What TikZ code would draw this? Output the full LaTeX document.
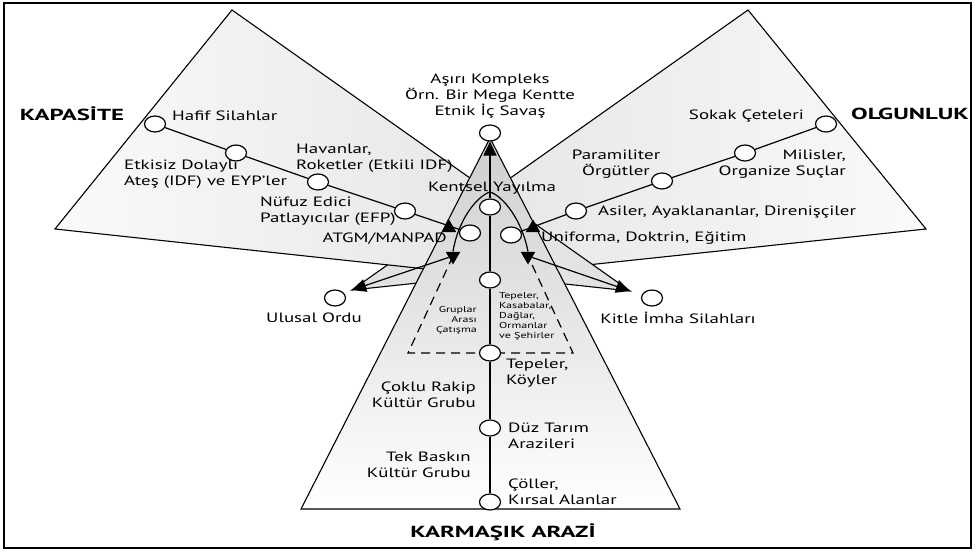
\documentclass[tikz,border=0pt]{standalone}
\usepackage{fontspec}
\setmainfont{PT Sans}[FakeStretch=1.4]
\newfontfamily\ttlfont{PT Sans}[FakeStretch=1.55]
\usetikzlibrary{shapes.geometric,arrows.meta,calc}
\begin{document}
\begin{tikzpicture}[x=1pt,y=-1pt,
  every node/.style={inner sep=0pt},
  lab/.style={font=\fontsize{13.5}{16}\selectfont},
  small/.style={font=\fontsize{8.6}{10}\selectfont},
  ttl/.style={font=\ttlfont\fontsize{16}{18}\selectfont\bfseries},
  pt/.style={draw, ellipse, fill=white, minimum width=21pt, minimum height=16pt, line width=1.2pt},
  edgeline/.style={line width=1.2pt},
  tri/.style={draw, line width=1.1pt},
  upT/.style={regular polygon, regular polygon sides=3, fill=black, minimum size=17pt},
  dnT/.style={upT, shape border rotate=180},
  tip/.style={-{Triangle[length=14pt,width=13pt]}},
  dashline/.style={line width=1.2pt, dash pattern=on 9pt off 6pt}
]
\useasboundingbox (0,0) rectangle (976,553);
\draw[line width=1.3pt] (4,3) rectangle (971,548);

% vertices
\coordinate (ut) at (352,290);
\coordinate (wt) at (630,291);
\coordinate (LA) at (232,10);
\coordinate (LB) at (55,229);
\coordinate (RA) at (748,10);
\coordinate (RB) at (926,229);
\coordinate (BA) at (490,138);
\coordinate (BL) at (301,509);
\coordinate (BR) at (680,509);

% big triangles
\shade[left color=gray!24, right color=gray!4] (RA) -- (RB) -- (ut) -- cycle;
\draw[tri] (RA) -- (RB) -- (ut) -- cycle;
\shade[left color=gray!4, right color=gray!24] (LA) -- (LB) -- (wt) -- cycle;
\draw[tri] (LA) -- (LB) -- (wt) -- cycle;
\shade[top color=gray!38, middle color=gray!12, bottom color=white] (BA) -- (BL) -- (BR) -- cycle;
\draw[tri] (BA) -- (BL) -- (BR) -- cycle;

% dashed region
\coordinate (qa) at (408,353);
\coordinate (qb) at (573,353);
\coordinate (dlc) at (453,256);
\coordinate (drc) at (528,256);
\draw[dashline] (dlc) -- (qa) -- (qb) -- (drc);

% arrow heads
\node[upT] (al) at (449,228) {};
\node[upT] (ar) at (533,228) {};
\node[dnT] (dl) at (dlc) {};
\node[dnT] (dr) at (drc) {};

% circles
\node[pt] (c1) at (155,124) {};
\node[pt] (c2) at (236,153) {};
\node[pt] (c3) at (318,182) {};
\node[pt] (c4) at (405,211) {};
\node[pt] (c5) at (470,233) {};
\node[pt] (d1) at (826,124) {};
\node[pt] (d2) at (745,153) {};
\node[pt] (d3) at (662,181) {};
\node[pt] (d4) at (576,211) {};
\node[pt] (d5) at (511,235) {};
\node[pt] (v0) at (490,133) {};
\node[pt] (v1) at (490,207) {};
\node[pt] (v2) at (490,280) {};
\node[pt] (v3) at (490,353) {};
\node[pt] (v4) at (490,428) {};
\node[pt] (v5) at (490,502) {};
\node[pt] (u) at (335,298) {};
\node[pt] (w) at (652,298) {};

% connectors
\draw[edgeline] (c1) -- (c2) -- (c3) -- (c4) -- (c5);
\draw[edgeline] (d1) -- (d2) -- (d3) -- (d4) -- (d5);
\draw[edgeline] (v5) -- (v4) -- (v3) -- (v2) -- (v1);
\draw[edgeline, tip] (v1) -- (v0);
\coordinate (k0) at (490,192);
\draw[edgeline] (k0) .. controls (477,196) and (458,220) .. (dl.north);
\draw[edgeline] (k0) .. controls (503,196) and (522,220) .. (dr.north);
\draw[edgeline, tip] (dl) -- (ut);
\draw[edgeline, tip] (dr) -- (wt);

% labels
\node[ttl] (kap) at (72,114) {KAPASİTE};
\node[lab, anchor=west] (l1) at (172,116) {Hafif Silahlar};
\node[lab, anchor=west, align=left] (l2) at (124,174.5) {Etkisiz Dolaylı\\Ateş (IDF) ve EYP’ler};
\node[lab, anchor=west, align=left] (l3) at (296,158.5) {Havanlar,\\Roketler (Etkili IDF)};
\node[lab, anchor=west, align=left] (l4) at (260,211.5) {Nüfuz Edici\\Patlayıcılar (EFP)};
\node[lab, anchor=east] (l5) at (447,239) {ATGM/MANPAD};
\node[lab, align=center] (l6) at (490,96) {Aşırı Kompleks\\Örn. Bir Mega Kentte\\Etnik İç Savaş};
\node[lab] (l7) at (492,188) {Kentsel Yayılma};
\node[ttl] (olg) at (910,114) {OLGUNLUK};
\node[lab, anchor=east] (r1) at (804,116) {Sokak Çeteleri};
\node[lab, align=center] (r2) at (616,164.5) {Paramiliter\\Örgütler};
\node[lab, anchor=east, align=right] (r3) at (846,164.5) {Milisler,\\Organize Suçlar};
\node[lab, anchor=west] (r4) at (598,212) {Asiler, Ayaklananlar, Direnişçiler};
\node[lab, anchor=west] (r5) at (541,238) {Uniforma, Doktrin, Eğitim};
\node[lab] (o1) at (314,318) {Ulusal Ordu};
\node[lab] (o2) at (678,318) {Kitle İmha Silahları};
\node[small, anchor=east, align=right] (g1) at (477,320) {Gruplar\\Arası\\Çatışma};
\node[small, anchor=west, align=left] (g2) at (499,316) {Tepeler,\\Kasabalar,\\Dağlar,\\Ormanlar\\ve Şehirler};
\node[lab, anchor=west, align=left] (t1) at (506,373) {Tepeler,\\Köyler};
\node[lab, anchor=east, align=right] (t2) at (476,394.5) {Çoklu Rakip\\Kültür Grubu};
\node[lab, anchor=west, align=left] (t3) at (508,435.5) {Düz Tarım\\Arazileri};
\node[lab, anchor=east, align=right] (t4) at (471,465) {Tek Baskın\\Kültür Grubu};
\node[lab, anchor=west, align=left] (t5) at (508,491.5) {Çöller,\\Kırsal Alanlar};
\node[ttl] (kar) at (503,532) {KARMAŞIK ARAZİ};
\end{tikzpicture}
\end{document}
